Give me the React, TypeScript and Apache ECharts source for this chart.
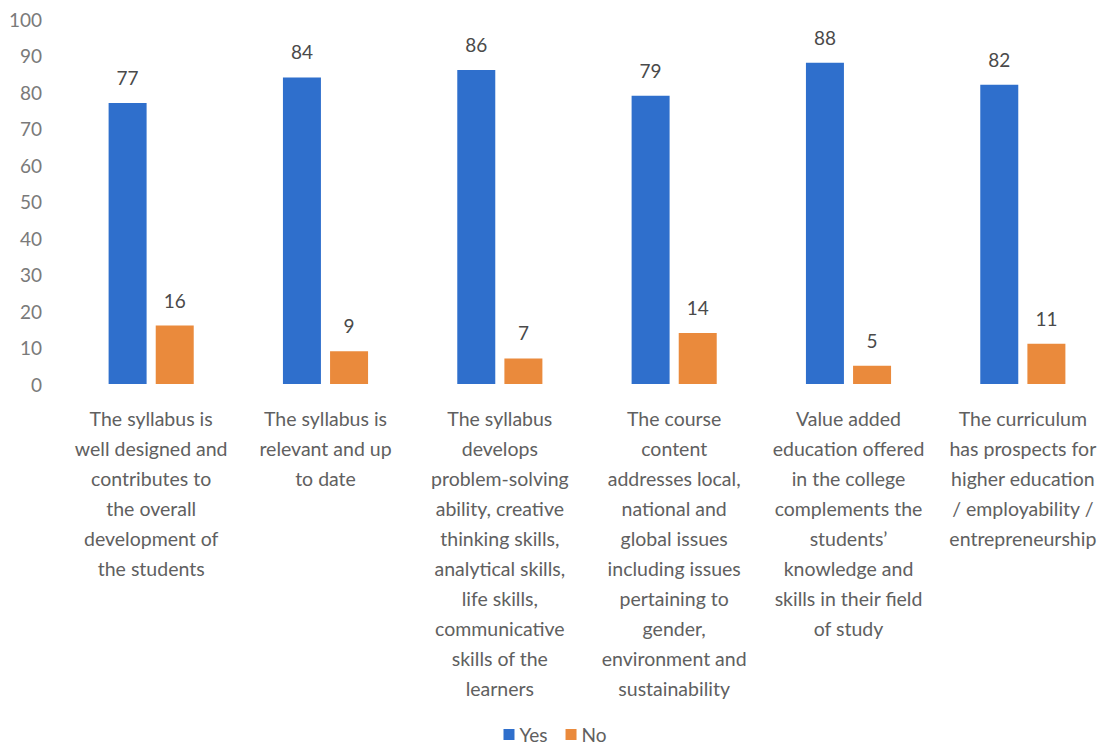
import React, { useEffect, useRef } from "react";
import * as echarts from "echarts";

const categories = [
  "The syllabus is\nwell designed and\ncontributes to\nthe overall\ndevelopment of\nthe students",
  "The syllabus is\nrelevant and up\nto date",
  "The syllabus\ndevelops\nproblem-solving\nability, creative\nthinking skills,\nanalytical skills,\nlife skills,\ncommunicative\nskills of the\nlearners",
  "The course\ncontent\naddresses local,\nnational and\nglobal issues\nincluding issues\npertaining to\ngender,\nenvironment and\nsustainability",
  "Value added\neducation offered\nin the college\ncomplements the\nstudents’\nknowledge and\nskills in their field\nof study",
  "The curriculum\nhas prospects for\nhigher education\n/ employability /\nentrepreneurship",
];
const yesValues = [77, 84, 86, 79, 88, 82];
const noValues = [16, 9, 7, 14, 5, 11];

const FONT = "Lato, 'Open Sans', sans-serif";

export default function App() {
  const ref = useRef<HTMLDivElement>(null);
  useEffect(() => {
    document.body.style.margin = "0";
    const chart = echarts.init(ref.current!, null, { renderer: "svg" });
    chart.setOption({
      animation: false,
      textStyle: { fontFamily: FONT },
      legend: {
        bottom: 0,
        left: "center",
        itemWidth: 11,
        itemHeight: 11,
        itemGap: 18,
        icon: "rect",
        textStyle: { fontSize: 19, color: "#606060", fontFamily: FONT },
        data: ["Yes", "No"],
      },
      grid: { left: 64, right: 0, top: 19, bottom: 365, containLabel: false },
      xAxis: {
        type: "category",
        data: categories,
        axisLine: { show: false },
        axisTick: { show: false },
        axisLabel: {
          interval: 0,
          fontSize: 19.5,
          lineHeight: 30,
          color: "#606060",
          margin: 19,
          fontFamily: FONT,
        },
      },
      yAxis: {
        type: "value",
        min: 0,
        max: 100,
        interval: 10,
        axisLine: { show: false },
        axisTick: { show: false },
        splitLine: { show: false },
        axisLabel: { fontSize: 19, color: "#7a7a7a", margin: 22, fontFamily: FONT },
      },
      series: [
        {
          name: "Yes",
          type: "bar",
          data: yesValues,
          barWidth: 38,
          barGap: "24%",
          itemStyle: { color: "#2F6FCC" },
          label: { show: true, position: "top", distance: 16, fontSize: 19, color: "#4a4a4a", fontFamily: FONT },
        },
        {
          name: "No",
          type: "bar",
          data: noValues,
          barWidth: 38,
          itemStyle: { color: "#EA8A3C" },
          label: { show: true, position: "top", distance: 16, fontSize: 19, color: "#4a4a4a", fontFamily: FONT },
        },
      ],
    });
    return () => chart.dispose();
  }, []);
  return <div ref={ref} style={{ width: 1110, height: 749 }} />;
}
